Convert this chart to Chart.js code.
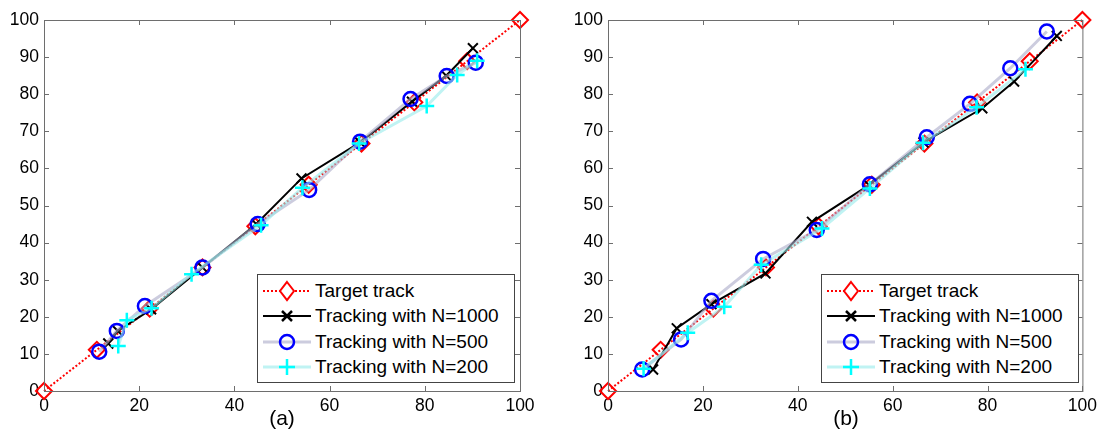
<!DOCTYPE html>
<html>
<head>
<meta charset="utf-8">
<script src="https://cdn.jsdelivr.net/npm/chart.js@4/dist/chart.umd.min.js"></script>
<style>
  body { margin: 0; background: #fff; width: 1102px; height: 441px; position: relative; overflow: hidden;
         font-family: "Liberation Sans", Arial, sans-serif; }
  canvas { position: absolute; top: 0; }
  .legend { position: absolute; top: 274px; width: 258px; height: 109px; border: 1px solid #444; background: #fff;
            box-sizing: border-box; }
  .legend .row { position: absolute; left: 4px; height: 25px; display: flex; align-items: center; font-size: 19px; color: #000; }
  .legend svg { margin-right: 3px; }
  .caption { position: absolute; top: 406px; font-size: 21px; width: 60px; margin-left: -30px; text-align: center; }
</style>
</head>
<body>
<canvas id="chart-a" width="551" height="441" style="left:0"></canvas>
<canvas id="chart-b" width="551" height="441" style="left:551px"></canvas>
<div class="caption" style="left:282px">(a)</div>
<div class="caption" style="left:846px">(b)</div>
<div class="legend" id="legend-a" style="left:257px"></div>
<div class="legend" id="legend-b" style="left:821px"></div>
<script>
// ── Data ──────────────────────────────────────────────────────
const targetX = [0, 11.1, 22.2, 33.3, 44.4, 55.6, 66.7, 77.8, 88.9, 100];
const targetY = [0, 11.1, 22.2, 33.3, 44.4, 55.6, 66.7, 77.8, 88.9, 100];

// panel (a)
const a1000X = [13.5, 15.5, 22.5, 33.3, 44.6, 54.1, 66.4, 77.3, 84.5, 90.1];
const a1000Y = [12.8, 16.2, 22.0, 33.3, 45.0, 57.3, 67.0, 78.0, 85.0, 92.4];
const a500X  = [11.6, 15.3, 21.2, 33.3, 44.9, 55.7, 66.4, 77.0, 84.6, 90.7];
const a500Y  = [10.6, 16.2, 22.9, 33.3, 45.0, 54.2, 67.2, 78.7, 84.9, 88.5];
const a200X  = [15.6, 17.4, 22.6, 31.0, 45.6, 54.3, 66.2, 80.4, 86.8, 91.0];
const a200Y  = [12.1, 19.1, 22.3, 31.5, 44.7, 54.8, 66.7, 76.8, 85.2, 89.0];

// panel (b)
const b1000X = [9.5, 14.5, 21.8, 33.2, 43.0, 55.0, 66.5, 78.9, 85.6, 94.6];
const b1000Y = [5.8, 16.9, 23.4, 31.7, 45.6, 55.5, 67.0, 76.2, 83.4, 95.7];
const b500X  = [7.2, 15.4, 21.8, 32.7, 44.0, 55.2, 67.2, 76.3, 84.8, 92.5];
const b500Y  = [5.8, 13.9, 24.3, 35.6, 43.4, 55.7, 68.4, 77.4, 87.0, 96.9];
const b200X  = [7.5, 16.8, 24.5, 32.3, 45.1, 55.2, 66.4, 77.7, 88.0];
const b200Y  = [6.0, 15.7, 22.7, 34.0, 43.8, 54.6, 66.9, 76.5, 86.7];

const seriesLabels = ['Target track', 'Tracking with N=1000', 'Tracking with N=500', 'Tracking with N=200'];
const xTicks = [0, 20, 40, 60, 80, 100];
const yTicks = [0, 10, 20, 30, 40, 50, 60, 70, 80, 90, 100];

// ── Helpers ───────────────────────────────────────────────────
function zip(xs, ys) {
  return xs.map((x, i) => ({ x, y: ys[i] }));
}

const FONT = { family: '"Liberation Sans", Arial, sans-serif', size: 17.5 };

// box + inward ticks on all four sides, drawn over the data like MATLAB
const boxPlugin = {
  id: 'box',
  afterDatasetsDraw(chart) {
    const { ctx, chartArea: a, scales } = chart;
    ctx.save();
    ctx.strokeStyle = '#6e6e6e';
    ctx.lineWidth = 1;
    ctx.strokeRect(a.left + 0.5, a.top + 0.5, a.right - a.left, a.bottom - a.top);
    ctx.beginPath();
    xTicks.forEach(v => {
      const px = Math.round(scales.x.getPixelForValue(v)) + 0.5;
      ctx.moveTo(px, a.bottom); ctx.lineTo(px, a.bottom - 5);
      ctx.moveTo(px, a.top); ctx.lineTo(px, a.top + 5);
    });
    yTicks.forEach(v => {
      const py = Math.round(scales.y.getPixelForValue(v)) + 0.5;
      ctx.moveTo(a.left, py); ctx.lineTo(a.left + 5, py);
      ctx.moveTo(a.right, py); ctx.lineTo(a.right - 5, py);
    });
    ctx.stroke();
    ctx.restore();
  }
};

function makeDatasets(p1000, p500, p200) {
  return [
    {
      label: seriesLabels[0], data: zip(targetX, targetY), order: 4,
      borderColor: '#ff0000', borderWidth: 2, borderDash: [2, 2],
      pointStyle: 'rectRot', pointRadius: 8, pointBorderColor: '#ff0000',
      pointBackgroundColor: 'rgba(0,0,0,0)', pointBorderWidth: 2
    },
    {
      label: seriesLabels[1], data: p1000, order: 3,
      borderColor: '#000000', borderWidth: 2,
      pointStyle: 'crossRot', pointRadius: 7, pointBorderColor: '#000000', pointBorderWidth: 2
    },
    {
      label: seriesLabels[2], data: p500, order: 2,
      borderColor: 'rgba(170,170,200,0.6)', borderWidth: 3,
      pointStyle: 'circle', pointRadius: 7, pointBorderColor: '#0000ff',
      pointBackgroundColor: 'rgba(0,0,0,0)', pointBorderWidth: 2.5
    },
    {
      label: seriesLabels[3], data: p200, order: 1,
      borderColor: 'rgba(150,235,235,0.6)', borderWidth: 3,
      pointStyle: 'cross', pointRadius: 7.5, pointBorderColor: '#00ffff', pointBorderWidth: 2.5
    }
  ];
}

function makeChart(id, datasets, yWidth, padRight) {
  return new Chart(document.getElementById(id), {
    type: 'scatter',
    data: { datasets: datasets.map(d => Object.assign({ showLine: true, clip: false, tension: 0 }, d)) },
    options: {
      responsive: false,
      animation: false,
      layout: { padding: { top: 20, right: padRight, left: 0, bottom: 0 } },
      plugins: { legend: { display: false }, tooltip: { enabled: false } },
      scales: {
        x: {
          type: 'linear', min: 0, max: 100,
          afterBuildTicks: s => { s.ticks = xTicks.map(v => ({ value: v })); },
          afterFit: s => { s.height = 50; },
          grid: { display: false, drawTicks: false },
          border: { display: false },
          ticks: { padding: 5, color: '#000', font: FONT, maxRotation: 0 }
        },
        y: {
          type: 'linear', min: 0, max: 100,
          afterBuildTicks: s => { s.ticks = yTicks.map(v => ({ value: v })); },
          afterFit: s => { s.width = yWidth; },
          grid: { display: false, drawTicks: false },
          border: { display: false },
          ticks: { padding: 5, color: '#000', font: FONT }
        }
      }
    },
    plugins: [boxPlugin]
  });
}

// ── Legend (HTML, inside the axes) ────────────────────────────
const ICONS = [
  '<line x1="1" y1="12" x2="49" y2="12" stroke="#ff0000" stroke-width="2" stroke-dasharray="2 2"/>' +
  '<polygon points="25,3 32,12 25,21 18,12" fill="#fff" stroke="#ff0000" stroke-width="2"/>',
  '<line x1="1" y1="12" x2="49" y2="12" stroke="#000" stroke-width="2"/>' +
  '<path d="M20,7 L30,17 M30,7 L20,17" stroke="#000" stroke-width="2.5"/>',
  '<line x1="1" y1="12" x2="49" y2="12" stroke="rgba(170,170,200,0.6)" stroke-width="3"/>' +
  '<circle cx="25" cy="12" r="7" fill="none" stroke="#0000ff" stroke-width="2.5"/>',
  '<line x1="1" y1="12" x2="49" y2="12" stroke="rgba(150,235,235,0.6)" stroke-width="3"/>' +
  '<path d="M25,4 L25,20 M17,12 L33,12" stroke="#00ffff" stroke-width="2.5"/>'
];

function renderLegend(id) {
  const el = document.getElementById(id);
  el.innerHTML = seriesLabels.map((name, i) =>
    `<div class="row" style="top:${3 + i * 25.5}px">` +
    `<svg width="50" height="24" viewBox="0 0 50 24">${ICONS[i]}</svg>` +
    `<span>${name}</span></div>`).join('');
}

// ── Init ──────────────────────────────────────────────────────
makeChart('chart-a', makeDatasets(zip(a1000X, a1000Y), zip(a500X, a500Y), zip(a200X, a200Y)), 44, 31);
makeChart('chart-b', makeDatasets(zip(b1000X, b1000Y), zip(b500X, b500Y), zip(b200X, b200Y)), 57, 16);
renderLegend('legend-a');
renderLegend('legend-b');
</script>
</body>
</html>
